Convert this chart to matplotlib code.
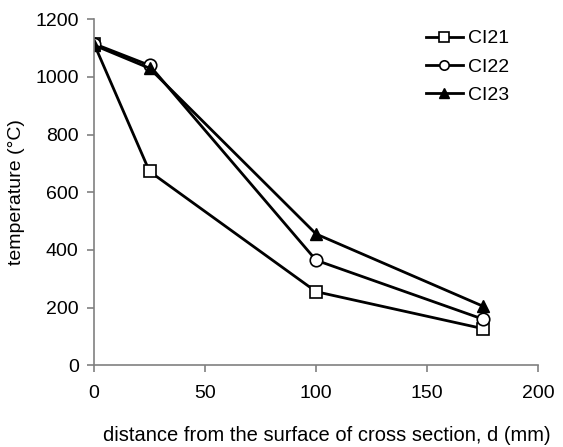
import matplotlib.pyplot as plt

plt.rcParams['font.family'] = ['Liberation Sans', 'DejaVu Sans']

d = [0, 25, 100, 175]
ci21 = [1115, 672, 255, 127]
ci22 = [1115, 1040, 364, 160]
ci23 = [1110, 1030, 455, 205]

fig = plt.figure(figsize=(5.63, 4.47), dpi=100)
ax = fig.add_axes([0.167, 0.183, 0.789, 0.774])

ax.plot(d, ci21, color='black', lw=2, marker='s', ms=9, mfc='white', mec='black', mew=1.2, label='CI21')
ax.plot(d, ci22, color='black', lw=2, marker='o', ms=9, mfc='white', mec='black', mew=1.2, label='CI22')
ax.plot(d, ci23, color='black', lw=2, marker='^', ms=9, mfc='black', mec='black', label='CI23')

ax.set_xlim(0, 200)
ax.set_ylim(0, 1200)
ax.set_xticks([0, 50, 100, 150, 200])
ax.set_yticks(range(0, 1201, 200))
for s in ('top', 'right'):
    ax.spines[s].set_visible(False)
for s in ('left', 'bottom'):
    ax.spines[s].set_color('#808080')
    ax.spines[s].set_linewidth(1.2)
ax.tick_params(colors='#808080', labelcolor='black', labelsize=14, length=5, width=1.2)
ax.tick_params(axis='x', pad=9)
ax.tick_params(axis='y', pad=6)

ax.set_xlabel('distance from the surface of cross section, d (mm)', fontsize=14.5)
ax.xaxis.set_label_coords(0.525, -0.175)
ax.set_ylabel('temperature (°C)', fontsize=14)
ax.yaxis.set_label_coords(-0.155, 0.5)

ax.legend(loc='upper right', bbox_to_anchor=(0.975, 1.02), frameon=False, fontsize=14,
          handlelength=1.9, handletextpad=0.3, labelspacing=0.55, markerscale=0.75)

fig.savefig('out.png', dpi=100)
